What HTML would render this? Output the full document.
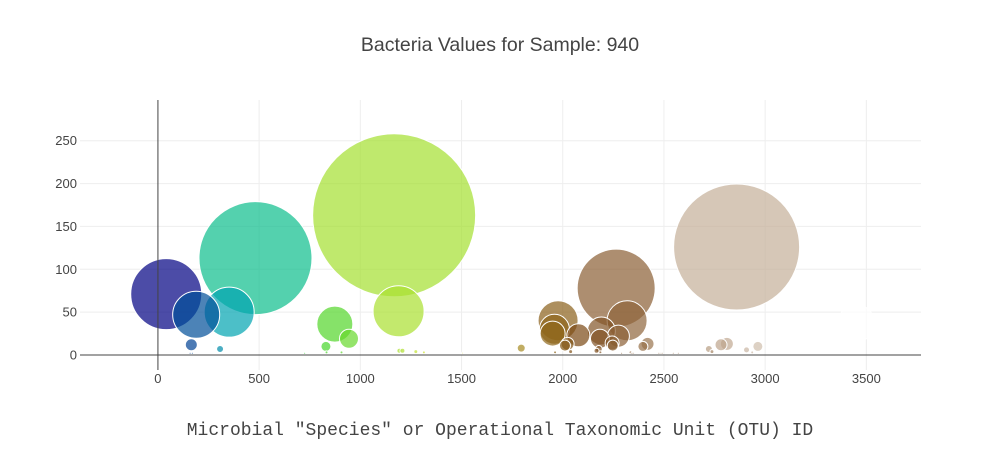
<!DOCTYPE html>
<html><head><meta charset="utf-8"><style>
html,body{margin:0;padding:0;background:#fff;width:1001px;height:450px;overflow:hidden}
text{font-family:"Liberation Sans",sans-serif}
</style></head><body>
<svg id="chart" width="1001" height="450" xmlns="http://www.w3.org/2000/svg">
<text x="500" y="51" text-anchor="middle" font-size="19.5" fill="#444">Bacteria Values for Sample: 940</text>
<g id="grid"></g><g id="marks"></g><g id="axes"></g>
<text x="500" y="435" text-anchor="middle" font-size="18" fill="#444" style="font-family:'Liberation Mono',monospace">Microbial "Species" or Operational Taxonomic Unit (OTU) ID</text>
</svg>
<script>
const otuIds=[1167,2859,482,2264,41,1189,352,189,2318,1977,3450,874,1959,2191,1950,2077,2275,944,2184,2244,2024,2419,2811,165,2782,2247,2011,2396,830,2964,1795,2722,307,2178,2908,1193,2167,1208,2039,1274,2739,2737,1314,1962,2186,2335,2936,907,833,2483,2475,2491,2291,159,2571,2350,2342,2546,725,170,1505,513,259,1169,258,1232,1497,1498,1503,412,2235,1960,1968,121,2065,340,2110,2188,357,342];
const sampleValues=[163,126,113,78,71,51,50,47,40,40,37,36,30,28,25,23,22,19,19,14,13,13,13,12,12,11,11,10,10,10,8,7,7,7,6,5,5,5,4,4,4,4,3,3,3,3,3,3,3,2,2,2,2,2,2,2,2,2,2,2,2,1,1,1,1,1,1,1,1,1,1,1,1,1,1,1,1,1,1,1];
const xTicks=[0,500,1000,1500,2000,2500,3000,3500];
const yTicks=[0,50,100,150,200,250];
const X0=80,X1=921,Y0=370,Y1=100,xMin=-385,xMax=3770,yMin=-17.5,yMax=297.5;
const xs=v=>X0+(v-xMin)/(xMax-xMin)*(X1-X0);
const ys=v=>Y0-(v-yMin)/(yMax-yMin)*(Y0-Y1);
const NS="http://www.w3.org/2000/svg";
function mk(t,a,p){const e=document.createElementNS(NS,t);for(const k in a)e.setAttribute(k,a[k]);p.appendChild(e);return e;}
const stops=[[0,[0,0,130]],[0.1,[0,180,180]],[0.2,[40,210,40]],[0.4,[230,230,50]],[0.6,[120,70,20]],[1,[255,255,255]]];
function col(t){for(let i=1;i<stops.length;i++){if(t<=stops[i][0]){const a=stops[i-1],b=stops[i];const f=(t-a[0])/(b[0]-a[0]);return 'rgb('+a[1].map((c,j)=>Math.round(c+(b[1][j]-c)*f)).join(',')+')';}}return 'rgb(255,255,255)';}
const grid=document.getElementById('grid'),marks=document.getElementById('marks'),axes=document.getElementById('axes');
xTicks.forEach(t=>{
 if(t!==0){const l=mk('line',{x1:xs(t),x2:xs(t),y1:Y1,y2:Y0,stroke:'#eee'},grid);
 
 }
 const tx=mk('text',{x:xs(t),y:383,'text-anchor':'middle','font-size':13,fill:'#444'},axes);tx.textContent=t;
 
 
});
yTicks.forEach(t=>{
 if(t!==0){const l=mk('line',{x1:X0,x2:X1,y1:ys(t),y2:ys(t),stroke:'#eee'},grid);
 
 }
 const tx=mk('text',{x:77,y:ys(t)+4.5,'text-anchor':'end','font-size':13,fill:'#444'},axes);tx.textContent=t;
 
 
});
const zx=mk('line',{x1:X0,x2:X1,y1:ys(0),y2:ys(0),stroke:'#444','stroke-width':1},axes);


const zy=mk('line',{x1:xs(0),x2:xs(0),y1:Y1,y2:Y0,stroke:'#444','stroke-width':1},axes);


const mn=Math.min(...otuIds),mx=Math.max(...otuIds);
otuIds.forEach((id,i)=>{
 const v=sampleValues[i];
 const c=mk('circle',{cx:xs(id),cy:ys(v),r:v/2,fill:col((id-mn)/(mx-mn)),'fill-opacity':0.7,stroke:'#fff','stroke-width':1},marks);
 
 
});
</script>
</body></html>
